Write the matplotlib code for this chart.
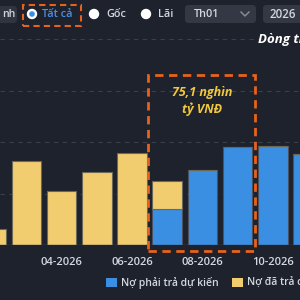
import matplotlib
matplotlib.use("Agg")
import matplotlib.pyplot as plt
from matplotlib.patches import Rectangle, FancyBboxPatch, Circle
import numpy as np

# ---- data ----
months = ['02-2026', '03-2026', '04-2026', '05-2026', '06-2026',
          '07-2026', '08-2026', '09-2026', '10-2026', '11-2026']
paid = [1.52, 8.18, 5.21, 7.09, 8.93, 2.66, 0, 0, 0, 0]
expected = [0, 0, 0, 0, 0, 3.52, 7.28, 9.49, 9.64, 8.84]
tick_months = ['04-2026', '06-2026', '08-2026', '10-2026']
legend_labels = ['Nợ phải trả dự kiến', 'Nợ đã trả c']
annotation = '75,1 nghìn\ntỷ VNĐ'

BG = '#1e222c'
YEL = '#f2cd70'
BLUE = '#3b8fe3'
TXT = '#d3d7de'
ORANGE = '#e8621c'
FONT = ['Open Sans', 'DejaVu Sans']
plt.rcParams['font.family'] = FONT

W = H = 300
fig = plt.figure(figsize=(3, 3), dpi=100, facecolor=BG)

def px(x, y):
    return x / W, 1 - y / H

ax = fig.add_axes([0, 55 / H, 1, 245 / H])
ax.set_facecolor(BG)
for s in ax.spines.values():
    s.set_visible(False)

x = np.arange(len(months))
step = 35.2
x0 = 8.85 / step
ax.set_xlim(x0, x0 + W / step)
grid_unit_px = 51.5
ax.set_ylim(0, 245 / grid_unit_px * 5)

ax.set_yticks([5, 10, 15, 20])
ax.yaxis.grid(True, color='#3a3f4a', linestyle=(0, (4, 4)), linewidth=0.8)
ax.set_axisbelow(True)
ax.tick_params(axis='y', left=False, labelleft=False)

bw = 29.5 / step
b1 = ax.bar(x, expected, width=bw, color=BLUE, edgecolor='#4a5262', linewidth=0.8,
            label=legend_labels[0])
b2 = ax.bar(x, paid, width=bw, bottom=expected, color=YEL, edgecolor='#6a6858',
            linewidth=0.8, label=legend_labels[1])
ax.axhline(0, color='#4a4f5a', linewidth=1)

ax.set_xticks([months.index(m) for m in tick_months])
ax.set_xticklabels(tick_months, color=TXT, fontsize=8, fontweight='semibold')
ax.tick_params(axis='x', length=0, pad=8.5)

# annotation box
lx = 5 - 0.545
rx = 7 + 0.496
yt = (245 - 75) / grid_unit_px * 5
yb = -(6) / grid_unit_px * 5
rect = Rectangle((lx, yb), rx - lx, yt - yb, fill=False, edgecolor=ORANGE,
                 linewidth=2, linestyle=(0, (3, 2)), clip_on=False, zorder=5)
ax.add_patch(rect)
ax.text((202 + 8.85) / step, (245 - 101) / grid_unit_px * 5, annotation,
        color='#f2c83c', fontsize=9, fontweight='bold', fontstyle='italic',
        ha='center', va='center', linespacing=1.35, zorder=6)

# legend
leg = fig.legend(handles=[b1, b2], labels=legend_labels, loc='center left',
                 bbox_to_anchor=(102 / W, 1 - 283 / H), ncol=2, frameon=False,
                 labelcolor=TXT, handlelength=1.0, handleheight=1.0,
                 handletextpad=0.4, columnspacing=1.35, borderaxespad=0,
                 prop={'weight': 'semibold', 'size': 7.5})
for h in leg.legend_handles:
    h.set_edgecolor('none')

# ---- header UI ----
def box(x1, y1, x2, y2, color):
    fig.patches.append(FancyBboxPatch(px(x1, y2), (x2 - x1) / W, (y2 - y1) / H,
                                      boxstyle='round,pad=0,rounding_size=0.012',
                                      transform=fig.transFigure, facecolor=color,
                                      edgecolor='none'))

box(-10, 6, 17, 23, '#2f3440')
fig.text(*px(2, 14.5), 'nh', color=TXT, fontsize=7.5, fontweight='semibold',
         va='center', ha='left')

fig.patches.append(Circle(px(32, 14), 5.2 / W, transform=fig.transFigure,
                          facecolor='white', edgecolor='none'))
fig.patches.append(Circle(px(32, 14), 2.8 / W, transform=fig.transFigure,
                          facecolor='#3b8fe3', edgecolor='none'))
fig.text(*px(42, 14.5), 'Tất cả', color='#4d8fe6', fontsize=7.8, fontweight='semibold',
         va='center', ha='left')
fig.patches.append(Rectangle(px(23, 26), 58 / W, 21 / H, transform=fig.transFigure,
                             fill=False, edgecolor=ORANGE, linewidth=1.5,
                             linestyle=(0, (3, 2))))

fig.patches.append(Circle(px(94, 14), 5.2 / W, transform=fig.transFigure,
                          facecolor='white', edgecolor='none'))
fig.text(*px(106, 14.5), 'Gốc', color=TXT, fontsize=7.8, fontweight='semibold',
         va='center', ha='left')
fig.patches.append(Circle(px(146, 14), 5.2 / W, transform=fig.transFigure,
                          facecolor='white', edgecolor='none'))
fig.text(*px(158, 14.5), 'Lãi', color=TXT, fontsize=7.8, fontweight='semibold',
         va='center', ha='left')

box(185, 5, 256, 23, '#333844')
fig.text(*px(194, 14.5), 'Th01', color=TXT, fontsize=7.8, fontweight='semibold',
         va='center', ha='left')
fig.lines.append(plt.Line2D([px(241, 12)[0], px(245, 16)[0], px(249, 12)[0]],
                            [px(241, 12)[1], px(245, 16)[1], px(249, 12)[1]],
                            transform=fig.transFigure, color='#8a8f99', linewidth=1))
box(263, 5, 320, 23, '#333844')
fig.text(*px(270, 14.5), '2026', color=TXT, fontsize=8.3, fontweight='semibold',
         va='center', ha='left')

fig.text(*px(258, 40), 'Dòng ti', color='white', fontsize=9.5, fontweight='bold',
         fontstyle='italic', va='center', ha='left')

fig.savefig('out.png', dpi=100, facecolor=BG)
